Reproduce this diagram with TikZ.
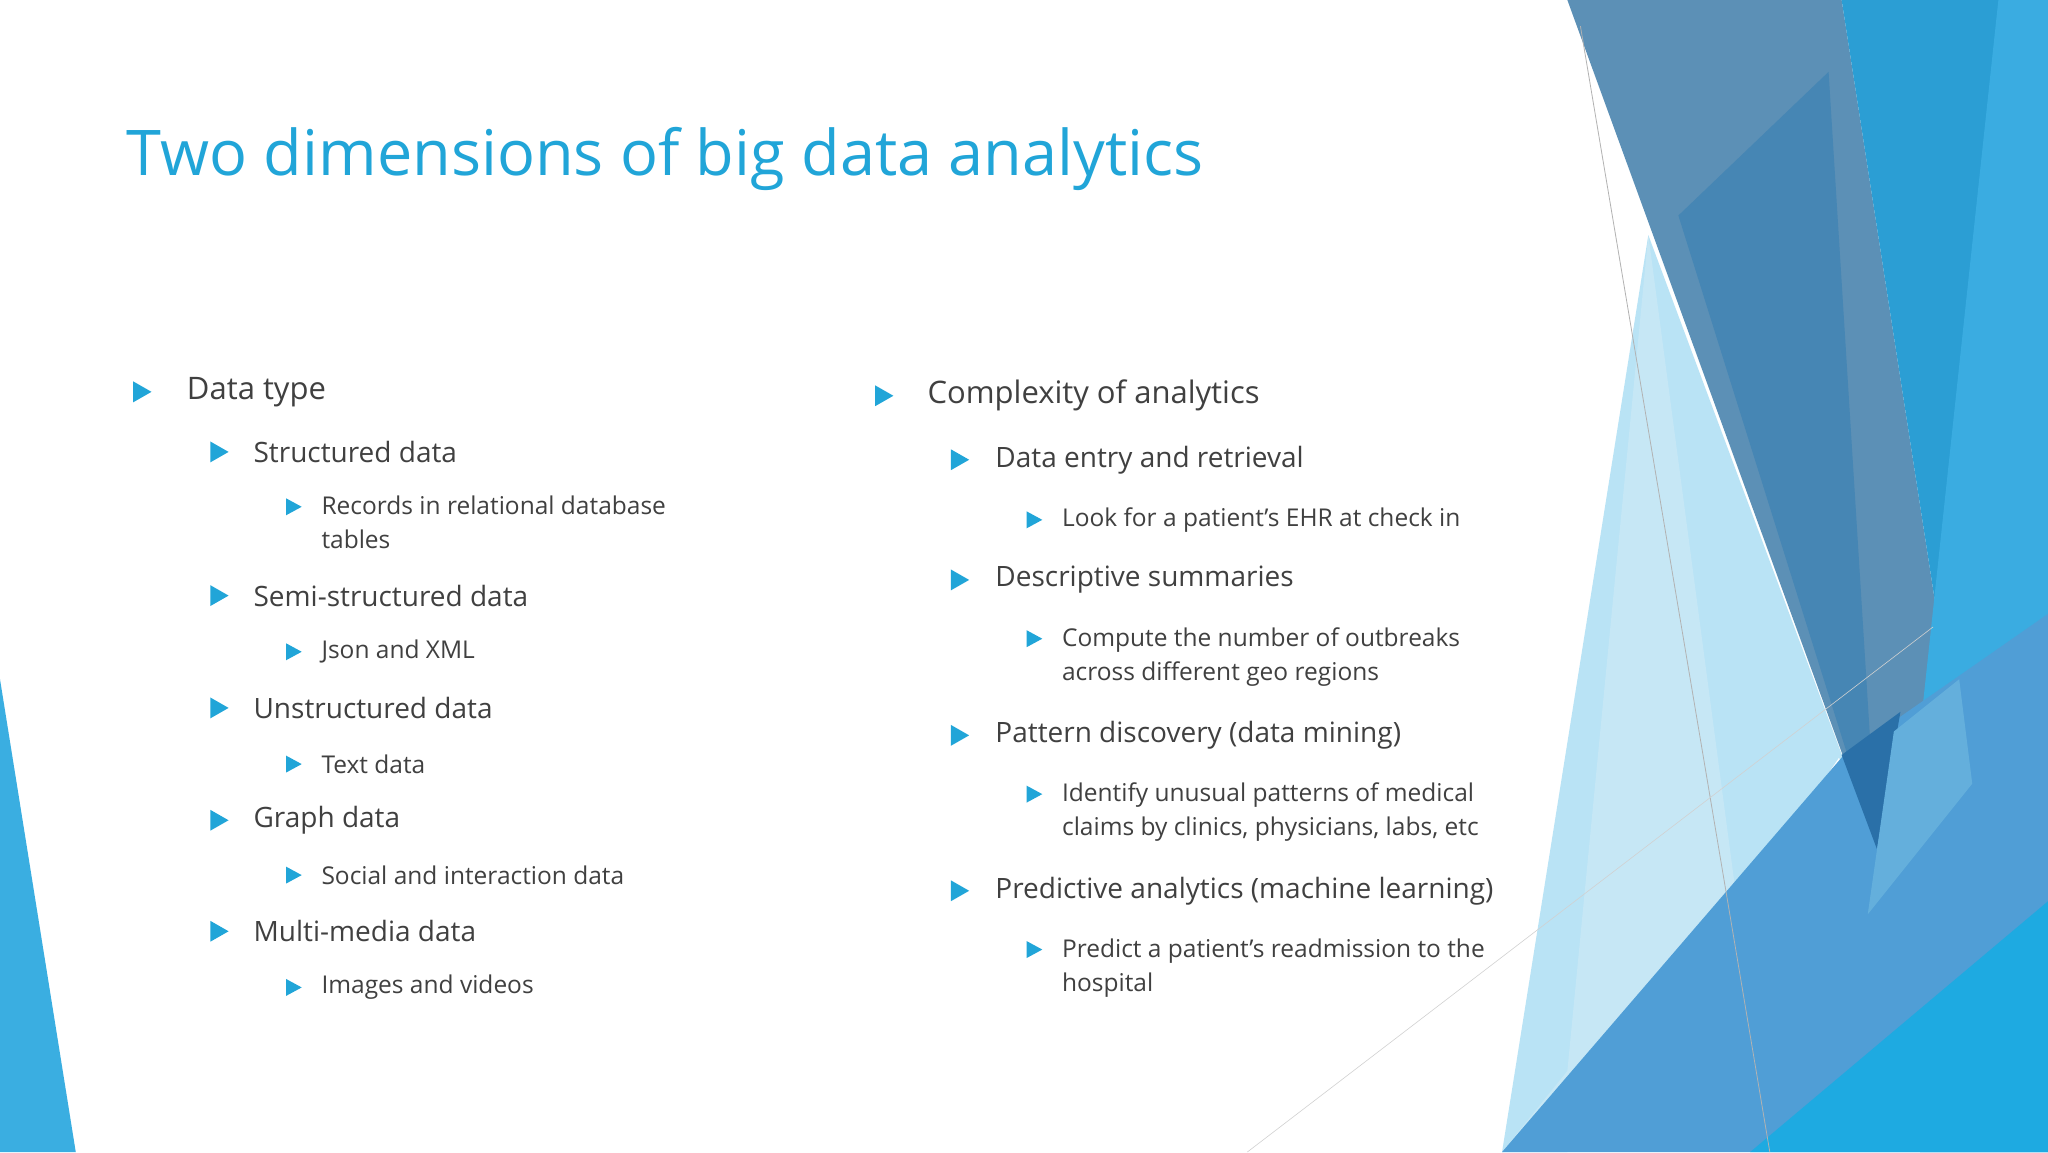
\documentclass[tikz,border=0pt]{standalone}
\usepackage{fontspec}
\setmainfont{Open Sans}
\begin{document}
\begin{tikzpicture}[x=1.306122pt,y=-1.306122pt,
  bul/.style={fill=tb, draw=none},
  lone/.style={anchor=west, inner sep=0, text=tx, font=\fontsize{31}{38}\selectfont},
  ltwo/.style={anchor=west, inner sep=0, text=tx, font=\fontsize{28}{34}\selectfont},
  lthree/.style={anchor=west, inner sep=0, text=tx, align=left, font=\fontsize{24.5}{34}\selectfont}]
\definecolor{tb}{HTML}{21A5D8}
\definecolor{tx}{HTML}{404040}
\useasboundingbox (0,0) rectangle (1568,882);
\fill[white] (0,0) rectangle (1568,882);
% decorations
\fill[fill=black!0] (0,0) rectangle (1,1);
\fill[color={rgb,255:red,92;green,144;blue,182}] (1200,0) -- (1410,0) -- (1500,580) -- (1437,650) -- cycle;
\fill[color={rgb,255:red,43;green,158;blue,212}] (1410,0) -- (1568,0) -- (1568,882) -- (1470,882) -- (1500,580) -- cycle;
\fill[color={rgb,255:red,58;green,172;blue,225}] (1530,0) -- (1568,0) -- (1568,700) -- (1470,560) -- cycle;
\fill[color={rgb,255:red,70;green,134;blue,180}] (1285,165) -- (1400,55) -- (1437,650) -- cycle;
\fill[color={rgb,255:red,168;green,220;blue,243},opacity=0.8] (1262,180) -- (1437,650) -- (1408,580) -- (1200,882) -- (1150,882) -- cycle;
\fill[color={rgb,255:red,200;green,232;blue,246},opacity=0.9] (1262,180) -- (1355,880) -- (1150,882) -- (1200,820) -- cycle;
\fill[color={rgb,255:red,80;green,158;blue,214}] (1150,882) -- (1410,580) -- (1568,470) -- (1568,882) -- cycle;
\fill[color={rgb,255:red,42;green,112;blue,168}] (1410,578) -- (1455,545) -- (1437,650) -- cycle;
\fill[color={rgb,255:red,100;green,175;blue,220}] (1450,560) -- (1500,520) -- (1510,600) -- (1430,700) -- cycle;
\fill[color={rgb,255:red,30;green,170;blue,225}] (1340,882) -- (1568,690) -- (1568,882) -- cycle;
\draw[black!30, line width=0.8] (1210,20) -- (1355,882);
\draw[black!18, line width=0.6] (1480,480) -- (955,882);
\fill[color={rgb,255:red,58;green,174;blue,225}] (0,520) -- (0,882) -- (58,882) -- cycle;
% title
\node[anchor=west, inner sep=0, text=tb, font=\fontsize{63}{70}\selectfont] (title) at (97,122) {Two dimensions of big data analytics};
% bullet macro via pic
\tikzset{tri/.pic={\fill[tb] (-6,-8) -- (8,0) -- (-6,8) -- cycle;}}
\tikzset{tris/.pic={\fill[tb] (-5,-6.5) -- (7,0) -- (-5,6.5) -- cycle;}}
% left column
\pic at (108,300) {tri}; \node[lone] (a1) at (143,300) {Data type};
\pic at (167,346) {tri}; \node[ltwo] (a2) at (194,346) {Structured data};
\pic at (224,388) {tris}; \node[lthree] (a3) at (246,400) {Records in relational database\\tables};
\pic at (167,456) {tri}; \node[ltwo] (a4) at (194,456) {Semi-structured data};
\pic at (224,499) {tris}; \node[lthree] (a5) at (246,499) {Json and XML};
\pic at (167,542) {tri}; \node[ltwo] (a6) at (194,542) {Unstructured data};
\pic at (224,585) {tris}; \node[lthree] (a7) at (246,585) {Text data};
\pic at (167,628) {tri}; \node[ltwo] (a8) at (194,628) {Graph data};
\pic at (224,670) {tris}; \node[lthree] (a9) at (246,670) {Social and interaction data};
\pic at (167,713) {tri}; \node[ltwo] (a10) at (194,713) {Multi-media data};
\pic at (224,756) {tris}; \node[lthree] (a11) at (246,756) {Images and videos};
% right column
\pic at (676,303) {tri}; \node[lone] (b1) at (710,303) {Complexity of analytics};
\pic at (734,352) {tri}; \node[ltwo] (b2) at (762,352) {Data entry and retrieval};
\pic at (791,398) {tris}; \node[lthree] (b3) at (813,398) {Look for a patient’s EHR at check in};
\pic at (734,444) {tri}; \node[ltwo] (b4) at (762,444) {Descriptive summaries};
\pic at (791,489) {tris}; \node[lthree] (b5) at (813,503) {Compute the number of outbreaks\\across different geo regions};
\pic at (734,563) {tri}; \node[ltwo] (b6) at (762,563) {Pattern discovery (data mining)};
\pic at (791,608) {tris}; \node[lthree] (b7) at (813,622) {Identify unusual patterns of medical\\claims by clinics, physicians, labs, etc};
\pic at (734,682) {tri}; \node[ltwo] (b8) at (762,682) {Predictive analytics (machine learning)};
\pic at (791,727) {tris}; \node[lthree] (b9) at (813,741) {Predict a patient’s readmission to the\\hospital};
\end{tikzpicture}
\end{document}
